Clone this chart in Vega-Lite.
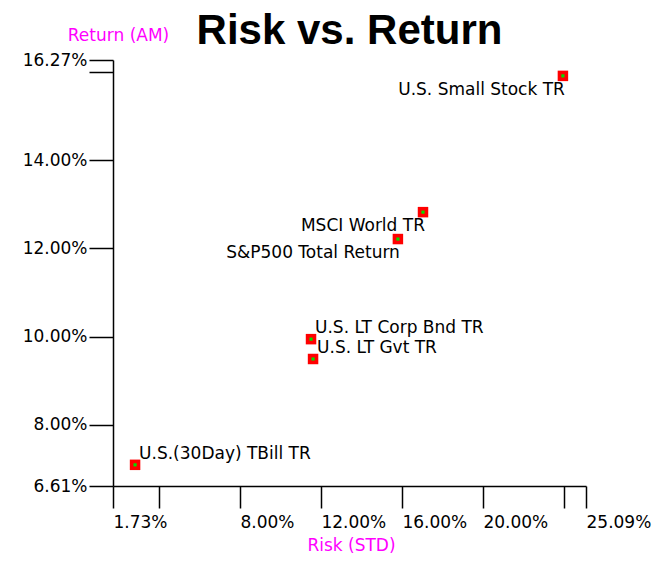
{
  "$schema": "https://vega.github.io/schema/vega-lite/v6.json",
  "autosize": {"type": "none"},
  "padding": {"left": 113, "top": 60, "right": 67, "bottom": 96},
  "width": 473,
  "height": 426,
  "background": "white",
  "title": {
    "text": "Risk vs. Return",
    "font": "Liberation Sans",
    "fontSize": 42,
    "fontWeight": "bold",
    "color": "black",
    "anchor": "middle",
    "frame": "group",
    "offset": -27
  },
  "config": {
    "view": {"stroke": null},
    "axis": {
      "grid": false,
      "domainColor": "black",
      "domainWidth": 1.5,
      "tickColor": "black",
      "tickWidth": 1.5,
      "labelColor": "black",
      "labelFont": "DejaVu Sans",
      "labelFontSize": 17,
      "labelOverlap": false,
      "labelFlush": false,
      "labelBound": false,
      "titleColor": "#FF00FF",
      "titleFont": "DejaVu Sans",
      "titleFontSize": 17,
      "titleFontWeight": "normal"
    }
  },
  "data": {
    "values": [
      {"asset": "U.S. Small Stock TR", "risk": 23.95, "ret": 15.91},
      {"asset": "MSCI World TR", "risk": 17.04, "ret": 12.82},
      {"asset": "S&P500 Total Return", "risk": 15.80, "ret": 12.21},
      {"asset": "U.S. LT Corp Bnd TR", "risk": 11.51, "ret": 9.94},
      {"asset": "U.S. LT Gvt TR", "risk": 11.61, "ret": 9.49},
      {"asset": "U.S.(30Day) TBill TR", "risk": 2.82, "ret": 7.09}
    ]
  },
  "encoding": {
    "x": {
      "field": "risk",
      "type": "quantitative",
      "scale": {"domain": [1.73, 25.09], "nice": false, "zero": false},
      "axis": {
        "values": [1.73, 4, 8, 12, 16, 20, 24, 25.09],
        "labelExpr": "datum.value == 4 || datum.value == 24 ? '' : format(datum.value, '.2f') + '%'",
        "tickSize": 22,
        "labelAlign": "left",
        "labelBaseline": "middle",
        "labelPadding": 14,
        "title": "Risk (STD)",
        "titleAlign": "center",
        "titleBaseline": "middle",
        "titleX": 238,
        "titleY": 59
      }
    },
    "y": {
      "field": "ret",
      "type": "quantitative",
      "scale": {"domain": [6.61, 16.27], "nice": false, "zero": false},
      "axis": {
        "values": [6.61, 8, 10, 12, 14, 16, 16.27],
        "labelExpr": "datum.value == 16 ? '' : format(datum.value, '.2f') + '%'",
        "tickSize": 24,
        "labelPadding": 2,
        "labelBaseline": "middle",
        "title": "Return (AM)",
        "titleAngle": 0,
        "titleAlign": "center",
        "titleBaseline": "middle",
        "titleX": 5,
        "titleY": -25
      }
    }
  },
  "layer": [
    {
      "mark": {"type": "square", "size": 110, "color": "#FF0000", "opacity": 1}
    },
    {
      "mark": {"type": "square", "size": 10, "color": "#00E000", "opacity": 1}
    },
    {
      "transform": [{"filter": {"field": "asset", "oneOf": ["U.S. Small Stock TR", "MSCI World TR", "S&P500 Total Return"]}}],
      "mark": {"type": "text", "align": "right", "baseline": "middle", "dx": 2, "dy": 14, "font": "DejaVu Sans", "fontSize": 17, "color": "black"},
      "encoding": {"text": {"field": "asset"}}
    },
    {
      "transform": [{"filter": {"field": "asset", "oneOf": ["U.S. LT Corp Bnd TR", "U.S. LT Gvt TR", "U.S.(30Day) TBill TR"]}}],
      "mark": {"type": "text", "align": "left", "baseline": "middle", "dx": 4, "dy": -11, "font": "DejaVu Sans", "fontSize": 17, "color": "black"},
      "encoding": {"text": {"field": "asset"}}
    }
  ]
}
